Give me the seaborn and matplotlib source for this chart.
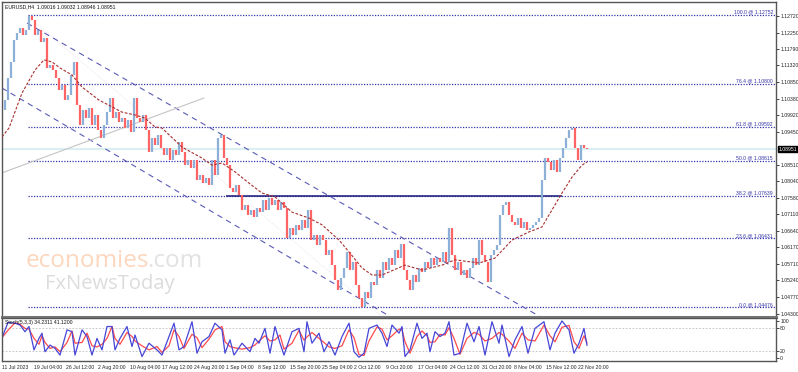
import numpy as np
import pandas as pd
import seaborn as sns
import matplotlib.pyplot as plt

sns.set_style("white")
plt.rcParams['font.family'] = ['DejaVu Sans']

# --- datos (EURUSD H4), un cierre cada 3 velas ---
closes = [
    1.1006, 1.1034, 1.1097, 1.1142, 1.1204, 1.1224, 1.1238, 1.1218, 1.1232, 1.1272,
    1.1261, 1.1218, 1.1232, 1.1198, 1.1210, 1.1125, 1.1133, 1.1119, 1.1097, 1.1063,
    1.1077, 1.1034, 1.1048, 1.1105, 1.1142, 1.1020, 1.0964, 1.1006, 1.0983, 1.1012,
    1.0964, 1.0992, 1.0949, 1.0927, 1.0964, 1.1000, 1.1040, 1.0983, 1.1000, 1.0972,
    1.0983, 1.0955, 1.0978, 1.0944, 1.1040, 1.0983, 1.0972, 1.0992, 1.0949, 1.0887,
    1.0927, 1.0907, 1.0935, 1.0898, 1.0879, 1.0898, 1.0865, 1.0893, 1.0879, 1.0915,
    1.0887, 1.0850, 1.0865, 1.0842, 1.0865, 1.0808, 1.0822, 1.0799, 1.0814, 1.0794,
    1.0865, 1.0822, 1.0927, 1.0935, 1.0870, 1.0850, 1.0785, 1.0774, 1.0794, 1.0765,
    1.0723, 1.0737, 1.0709, 1.0723, 1.0703, 1.0729, 1.0717, 1.0751, 1.0723, 1.0757,
    1.0737, 1.0751, 1.0723, 1.0746, 1.0729, 1.0644, 1.0672, 1.0652, 1.0681, 1.0666,
    1.0695, 1.0672, 1.0723, 1.0638, 1.0652, 1.0624, 1.0652, 1.0638, 1.0596, 1.0610,
    1.0567, 1.0525, 1.0497, 1.0531, 1.0559, 1.0604, 1.0553, 1.0576, 1.0511, 1.0474,
    1.0448, 1.0491, 1.0474, 1.0519, 1.0511, 1.0553, 1.0531, 1.0576, 1.0553, 1.0587,
    1.0567, 1.0610, 1.0587, 1.0627, 1.0553, 1.0525, 1.0497, 1.0539, 1.0519, 1.0559,
    1.0548, 1.0576, 1.0559, 1.0587, 1.0567, 1.0587, 1.0576, 1.0604, 1.0576, 1.0672,
    1.0596, 1.0553, 1.0576, 1.0539, 1.0553, 1.0531, 1.0559, 1.0587, 1.0567, 1.0638,
    1.0596, 1.0576, 1.0519, 1.0596, 1.0610, 1.0624, 1.0709, 1.0737, 1.0746, 1.0709,
    1.0689, 1.0681, 1.0700, 1.0672, 1.0689, 1.0666, 1.0672, 1.0681, 1.0689, 1.0700,
    1.0808, 1.0870, 1.0859, 1.0836, 1.0865, 1.0831, 1.0870, 1.0898, 1.0927, 1.0949,
    1.0955, 1.0898, 1.0865, 1.0907, 1.0898, 1.0895,
]

# media movil (linea discontinua roja)
ma_bars = [0, 7, 20, 33, 42, 50, 58, 70, 80, 97, 110, 120, 133, 143, 153, 160, 180,
           200, 210, 220, 233, 247, 260, 273, 290, 307, 320, 337, 348, 360, 370, 380,
           403, 420, 440, 453, 477, 493, 510, 527, 540, 547, 560, 570, 580, 585]
ma_prices = [1.0930, 1.0955, 1.1054, 1.1119, 1.1148, 1.1142, 1.1125, 1.1105, 1.1071,
             1.1034, 1.1015, 1.1000, 1.0992, 1.0983, 1.0958, 1.0955, 1.0901, 1.0870,
             1.0850, 1.0856, 1.0831, 1.0799, 1.0771, 1.0760, 1.0717, 1.0700, 1.0681,
             1.0638, 1.0601, 1.0559, 1.0539, 1.0539, 1.0567, 1.0553, 1.0567, 1.0582,
             1.0573, 1.0587, 1.0638, 1.0661, 1.0675, 1.0709, 1.0771, 1.0816, 1.0850,
             1.0859]

# Fibonacci
fib_pct = ["100.0", "76.4", "61.8", "50.0", "38.2", "23.6", "0.0"]
fib_levels = [1.12752, 1.10800, 1.09592, 1.08615, 1.07639, 1.06431, 1.04476]

# canal descendente y linea gris (extremos)
upper_bars, upper_prices = [25, 545], [1.1252, 1.0410]
lower_bars, lower_prices = [0, 395], [1.1068, 1.0410]
faint_bars, faint_prices = [30, 385], [1.1261, 1.0410]
gray_bars, gray_prices = [0, 202], [1.0828, 1.1040]
support_bars = [224, 560]

last_price = 1.08951
price_ticks = [1.12720, 1.12250, 1.11790, 1.11320, 1.10850, 1.10380, 1.09920, 1.09450,
               1.08510, 1.08040, 1.07580, 1.07110, 1.06640, 1.06170, 1.05710, 1.05240,
               1.04770, 1.04300]
date_labels = ["11 Jul 2023", "19 Jul 04:00", "26 Jul 12:00", "2 Aug 20:00", "10 Aug 04:00",
               "17 Aug 12:00", "24 Aug 20:00", "1 Sep 04:00", "8 Sep 12:00", "15 Sep 20:00",
               "25 Sep 04:00", "2 Oct 12:00", "9 Oct 20:00", "17 Oct 04:00", "24 Oct 12:00",
               "31 Oct 20:00", "8 Nov 04:00", "15 Nov 12:00", "22 Nov 20:00"]

# Estocastico (5,3,3)
stoch_bars = [0, 6, 13, 18, 23, 27, 32, 37, 40, 43, 48, 53, 58, 65, 70, 73, 80, 85, 90, 95,
              100, 105, 110, 113, 118, 125, 130, 133, 140, 147, 155, 160, 167, 172, 177, 182,
              190, 195, 200, 207, 213, 220, 223, 228, 232, 240, 248, 253, 257, 263, 268, 273,
              278, 282, 290, 297, 302, 305, 310, 317, 322, 327, 333, 340, 347, 352, 357, 362,
              367, 375, 380, 385, 390, 397, 400, 403, 408, 415, 420, 425, 428, 433, 438, 443,
              447, 452, 458, 465, 472, 477, 483, 490, 497, 500, 507, 513, 520, 526, 533, 542,
              548, 553, 560, 567, 572, 577, 582, 585]
stoch_k = [55, 96, 94, 89, 71, 85, 22, 53, 67, 17, 35, 26, 8, 76, 71, 8, 76, 58, 8, 53,
           22, 85, 85, 22, 53, 85, 31, 62, 4, 40, 22, 8, 58, 94, 22, 31, 98, 13, 44, 58,
           94, 76, 13, 49, 8, 40, 17, 53, 40, 80, 13, 85, 40, 8, 71, 80, 17, 98, 40, 67,
           17, 44, 8, 58, 94, 17, 2, 13, 80, 89, 67, 31, 89, 67, 85, 4, 22, 94, 53, 67,
           17, 71, 58, 67, 98, 8, 13, 94, 44, 85, 8, 98, 40, 89, 4, 49, 85, 13, 80, 98,
           22, 67, 100, 76, 13, 40, 80, 34]
stoch_d = [55, 75, 95, 91, 80, 78, 53, 37, 60, 42, 26, 30, 17, 42, 73, 40, 42, 67, 33, 30,
           37, 53, 85, 53, 37, 69, 58, 46, 33, 22, 31, 15, 33, 76, 58, 26, 64, 55, 28, 51,
           76, 85, 44, 31, 28, 24, 28, 35, 46, 60, 46, 49, 62, 24, 40, 75, 48, 57, 69, 53,
           42, 30, 26, 33, 76, 55, 9, 7, 46, 84, 78, 49, 60, 78, 76, 44, 13, 58, 73, 60,
           42, 44, 64, 62, 82, 53, 10, 53, 69, 64, 46, 53, 69, 64, 46, 26, 67, 49, 46, 89,
           60, 44, 83, 88, 44, 26, 60, 41]

fib_color = "#3434a8"
# fuente pequena y estrecha tipo MT4
small = dict(family=["Liberation Sans Narrow", "Liberation Sans"], size=3.7)

fig = plt.figure(figsize=(7.98, 3.72), dpi=100)
ax = fig.add_axes([2 / 798, 55 / 372, 774 / 798, 315 / 372])
ax2 = fig.add_axes([2 / 798, 11 / 372, 774 / 798, 43 / 372])

# --- panel de precio ---
bars = pd.DataFrame({"bar": np.arange(len(closes)) * 3, "close": closes})
bars["open"] = bars["close"].shift(1).fillna(bars["close"])
up = bars[bars["close"] >= bars["open"]]
dn = bars[bars["close"] < bars["open"]]
ax.vlines(up["bar"], up["open"], up["close"], color="#8db0d8", lw=1.6, zorder=3)
ax.vlines(dn["bar"], dn["open"], dn["close"], color="#ff6464", lw=1.6, zorder=3)

ax.axhline(last_price, color="#d6eff2", lw=1.3, zorder=1)
for pct, lvl in zip(fib_pct, fib_levels):
    ax.hlines(lvl, 26, 774, color=fib_color, lw=0.9, linestyles=(0, (1, 1.2)), zorder=2)
    ax.text(771, lvl + 0.0001, f"{pct} @ {lvl:.5f}", ha="right", va="bottom",
            color=fib_color, **small)
ax.hlines(fib_levels[4], support_bars[0], support_bars[1], color="#1a1a7a", lw=1.1, zorder=2)

sns.lineplot(x=upper_bars, y=upper_prices, ax=ax, color="#5a5ab8", lw=0.8,
             linestyle=(0, (5, 4)), zorder=2)
sns.lineplot(x=lower_bars, y=lower_prices, ax=ax, color="#5a5ab8", lw=0.8,
             linestyle=(0, (5, 4)), zorder=2)
sns.lineplot(x=faint_bars, y=faint_prices, ax=ax, color="#ecdcec", lw=0.6,
             linestyle=(0, (1, 1.5)), zorder=1)
sns.lineplot(x=gray_bars, y=gray_prices, ax=ax, color="#c4c4c4", lw=0.8, zorder=2)
sns.lineplot(x=ma_bars, y=ma_prices, ax=ax, color="#a83030", lw=0.8,
             linestyle=(0, (2.5, 1.5)), zorder=4)

ax.set_xlim(0, 774)
ax.set_ylim(1.04202, 1.13116)
ax.yaxis.tick_right()
ax.set_yticks(price_ticks)
ax.set_yticklabels([f"{p:.5f}" for p in price_ticks])
for lab in ax.get_yticklabels():
    lab.set_fontfamily(small["family"])
    lab.set_fontsize(small["size"])
ax.tick_params(axis="y", length=2, width=0.6, pad=1, colors="#222222")
ax.set_xticks([])
ax.set_xlabel("")
ax.set_ylabel("")
ax.text(1.003, last_price, f"{last_price:.5f}", transform=ax.get_yaxis_transform(),
        ha="left", va="center", color="white",
        bbox=dict(facecolor="black", edgecolor="black", pad=0.5), **small)
for s in ax.spines.values():
    s.set_color("#555555")
    s.set_linewidth(1)
ax.spines["bottom"].set_linewidth(2.2)
ax.spines["bottom"].set_color("#777777")

# marca de agua
ax.text(0.03, 0.158, "economies", transform=ax.transAxes, fontsize=17.5,
        color="#fcd6bd", family="Open Sans", zorder=0)
ax.text(0.188, 0.158, ".com", transform=ax.transAxes, fontsize=17.5,
        color="#e2e2e2", family="Open Sans", zorder=0)
ax.text(0.055, 0.09, "FxNewsToday", transform=ax.transAxes, fontsize=14.5,
        color="#dcdcdc", family="Open Sans", zorder=0)

fig.text(5 / 798, 1 - 7 / 372, "EURUSD,H4  1.09016 1.09032 1.08946 1.08951",
         va="center", color="#111111", **small)

# --- panel estocastico ---
ax2.axhline(80, color="#bdbdbd", lw=0.6, linestyle=(0, (2, 2)))
ax2.axhline(20, color="#bdbdbd", lw=0.6, linestyle=(0, (2, 2)))
sns.lineplot(x=stoch_bars, y=stoch_d, ax=ax2, color="#ff4a4a", lw=0.9)
sns.lineplot(x=stoch_bars, y=stoch_k, ax=ax2, color="#4646d8", lw=0.9)
ax2.set_xlim(0, 774)
ax2.set_ylim(-8, 108)
ax2.yaxis.tick_right()
ax2.set_yticks([0, 20, 80, 100])
ax2.set_yticklabels(["0", "20", "80", "100"])
tick_pos = np.arange(len(date_labels)) * 32
ax2.set_xticks(tick_pos)
ax2.set_xticklabels(date_labels, ha="left")
for lab in ax2.get_xticklabels() + ax2.get_yticklabels():
    lab.set_fontfamily(small["family"])
    lab.set_fontsize(small["size"])
ax2.tick_params(axis="y", length=2, width=0.6, pad=1)
ax2.tick_params(axis="x", length=2, width=0.6, pad=1)
ax2.set_xlabel("")
ax2.set_ylabel("")
ax2.text(0.004, 0.96, "Stoch(5,3,3) 34.2311 41.1200", transform=ax2.transAxes,
         va="top", color="#111111", **small)
for s in ax2.spines.values():
    s.set_color("#555555")
    s.set_linewidth(1)

fig.savefig("out.png", dpi=100)
